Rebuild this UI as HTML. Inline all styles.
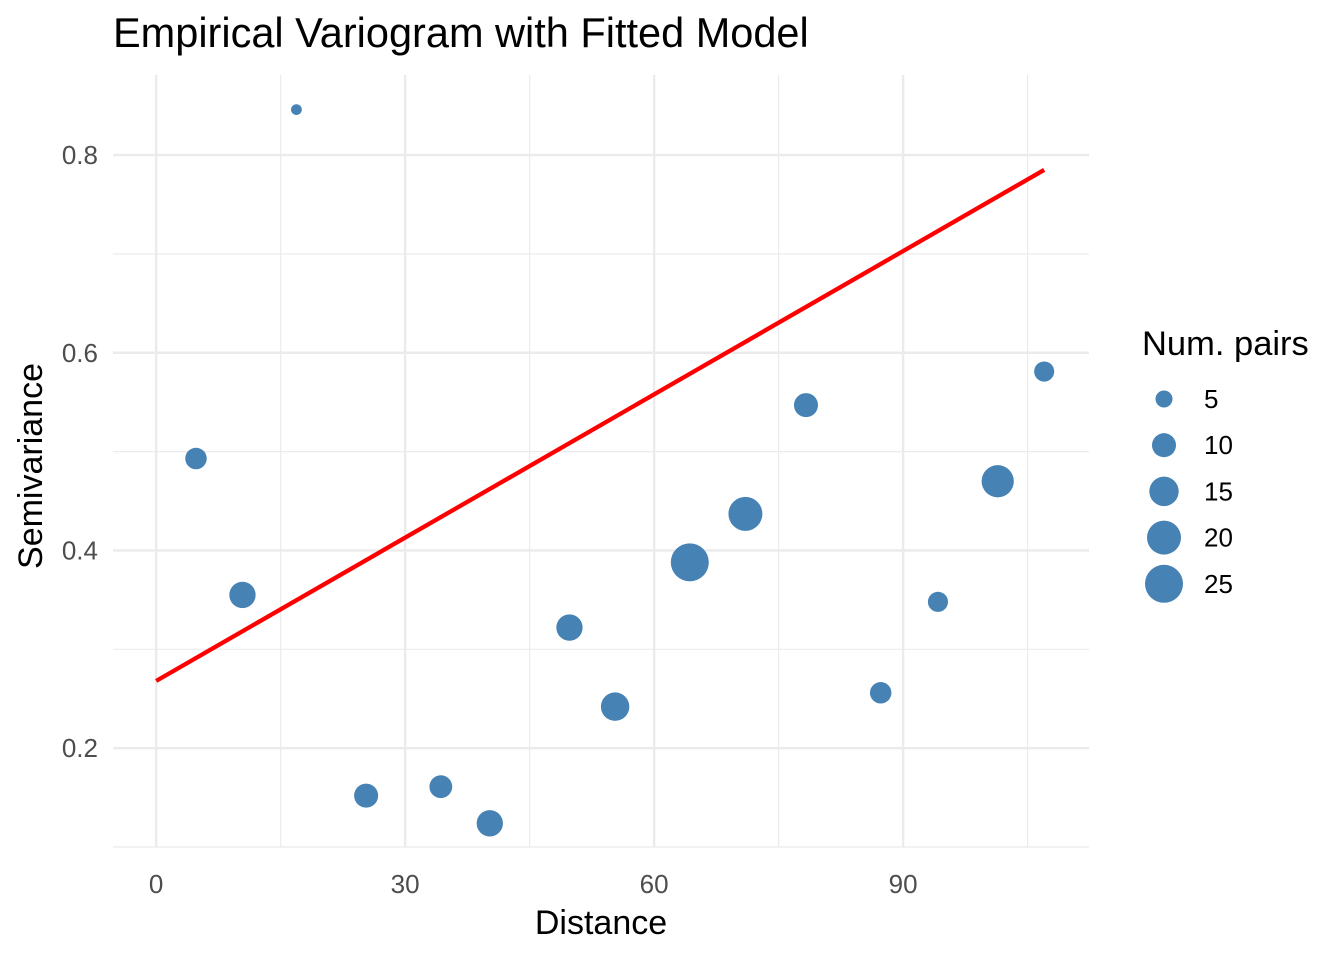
<!DOCTYPE html>
<html><head><meta charset="utf-8"><style>
body{margin:0;background:#fff;font-family:"Liberation Sans",sans-serif;}
</style></head><body>
<svg id="c" width="1344" height="960" xmlns="http://www.w3.org/2000/svg">
<text x="113" y="47" font-size="41.5" fill="#000">Empirical Variogram with Fitted Model</text>
<g id="grid"></g><g id="marks"></g><g id="axes"></g>
<text x="601" y="934" font-size="34" text-anchor="middle">Distance</text>
<text transform="translate(42,466) rotate(-90)" font-size="34" text-anchor="middle">Semivariance</text>
<g id="legend">
<text x="1142" y="355" font-size="34.5">Num. pairs</text>
</g>
</svg>
<script>
const distances=[4.8,16.9,10.4,25.3,34.3,40.2,49.8,55.3,64.3,71.0,78.3,87.3,94.2,101.4,107.0];
const gammas=[0.493,0.846,0.355,0.152,0.161,0.124,0.322,0.242,0.388,0.437,0.547,0.256,0.348,0.470,0.581];
const npairs=[8,2,12,10,9,12,12,14,25,20,10,8,7,18,7];
const fitX=[0,107];
const fitY=[0.268,0.785];
const xTicks=[0,30,60,90];
const yTicks=[0.2,0.4,0.6,0.8];
const legendSizes=[5,10,15,20,25];
const NS='http://www.w3.org/2000/svg';
const L=113,R=1089,T=75,B=847;
const xmin=-5.2,xmax=112.4,ymin=0.1,ymax=0.881;
const sx=v=>L+(v-xmin)/(xmax-xmin)*(R-L);
const sy=v=>B-(v-ymin)/(ymax-ymin)*(B-T);
const rs=n=>3.8*Math.sqrt(n);
function mk(t,a,p){const e=document.createElementNS(NS,t);for(const k in a)e.setAttribute(k,a[k]);p.appendChild(e);return e;}
const g=document.getElementById('grid');
for(const v of [15,45,75,105]){const l=mk('line',{x1:sx(v),x2:sx(v),y1:T,y2:B,stroke:'#ebebeb','stroke-width':1.2},g);

}
for(const v of [0.1,0.3,0.5,0.7]){const l=mk('line',{x1:L,x2:R,y1:sy(v),y2:sy(v),stroke:'#ebebeb','stroke-width':1.2},g);

}
const ax=document.getElementById('axes');
for(const v of xTicks){const l=mk('line',{x1:sx(v),x2:sx(v),y1:T,y2:B,stroke:'#ebebeb','stroke-width':2.4},g);


const t=mk('text',{x:sx(v),y:893,'font-size':26,fill:'#4d4d4d','text-anchor':'middle'},ax);t.textContent=v;

}
for(const v of yTicks){const l=mk('line',{x1:L,x2:R,y1:sy(v),y2:sy(v),stroke:'#ebebeb','stroke-width':2.4},g);


const t=mk('text',{x:98,y:sy(v)+9,'font-size':26,fill:'#4d4d4d','text-anchor':'end'},ax);t.textContent=v.toFixed(1);

}
const m=document.getElementById('marks');
for(let i=0;i<distances.length;i++){const c=mk('circle',{cx:sx(distances[i]),cy:sy(gammas[i]),r:rs(npairs[i]),fill:'#4682b4'},m);

}
const ln=mk('line',{x1:sx(fitX[0]),y1:sy(fitY[0]),x2:sx(fitX[1]),y2:sy(fitY[1]),stroke:'#ff0000','stroke-width':4.3},m);


const lg=document.getElementById('legend');
legendSizes.forEach((n,i)=>{const y=399+i*46.2;
const c=mk('circle',{cx:1164,cy:y,r:rs(n),fill:'#4682b4'},lg);


const t=mk('text',{x:1204,y:y+9,'font-size':26},lg);t.textContent=n;

});
</script>
</body></html>
